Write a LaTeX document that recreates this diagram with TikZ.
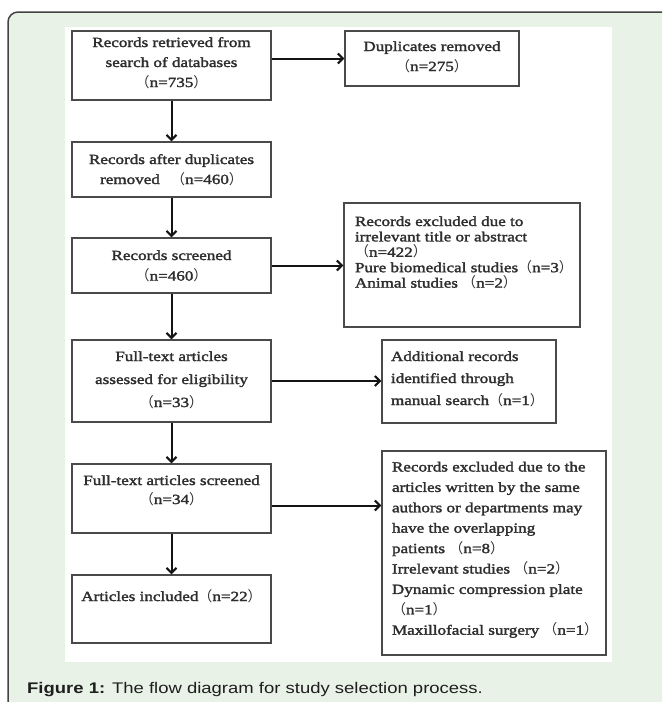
\documentclass[tikz,border=0pt]{standalone}
\usepackage{fontspec}
\usetikzlibrary{arrows.meta,shadows}
\newfontfamily\boxfont{Liberation Serif}[FakeStretch=1.22,FakeBold=2]
\newfontfamily\capfont{Liberation Sans}[FakeStretch=1.2]
\newfontfamily\cjkfont{Noto Sans CJK SC}
\newcommand\LPar{{\cjkfont （}}
\newcommand\RPar{{\cjkfont ）}}
\definecolor{framefill}{HTML}{E8F2E6}
\definecolor{frameline}{HTML}{444444}
\definecolor{boxline}{HTML}{4A4A4A}
\definecolor{txt}{HTML}{2E2E2E}
% #1 width, #2 height, #3 first baseline from top, #4 line spacing, #5 alignment, #6 text
\newcommand\BoxTxt[6]{\parbox[c][#2][t]{#1}{\baselineskip=#4\relax#5\rule{0pt}{#3}#6\par}}
\tikzset{
  fbox/.style={draw=boxline, line width=1.4pt, fill=white, inner sep=0pt,
    drop shadow={shadow xshift=1.2pt, shadow yshift=-1.2pt, opacity=0.3, fill=black},
    font=\boxfont\fontsize{14}{16}\selectfont, text=txt},
  arr/.style={line width=2pt, draw=black!92, -{Straight Barb[length=5pt,width=10pt]}}
}
\begin{document}
\begin{tikzpicture}[x=1pt,y=-1pt]
\useasboundingbox (0,0) rectangle (662,702);
\clip (0,0) rectangle (662,702);
\draw[fill=framefill, draw=frameline, line width=1.5pt, rounded corners=10pt] (8,12) rectangle (720,760);
\fill[white] (65,27) rectangle (612,662);

\node[fbox] (b1) at (171.5,65.5) {\BoxTxt{199pt}{69pt}{16pt}{20pt}{\centering}{Records retrieved from\\search of databases\\\LPar n=735\RPar}};
\node[fbox] (b2) at (432,58.5) {\BoxTxt{174pt}{55pt}{20pt}{20pt}{\centering}{Duplicates removed\\\LPar n=275\RPar}};
\node[fbox] (b3) at (171.5,169.5) {\BoxTxt{199pt}{55pt}{22pt}{20pt}{\centering}{Records after duplicates\\removed\hspace{7pt} \LPar n=460\RPar}};
\node[fbox] (b4) at (171.5,265.5) {\BoxTxt{199pt}{55pt}{22pt}{20.5pt}{\centering}{Records screened\\\LPar n=460\RPar}};
\node[fbox] (b5) at (462,265) {\BoxTxt{236pt}{124pt}{23pt}{15.4pt}{\raggedright\leftskip=11pt}{Records excluded due to\\irrelevant title or abstract\\\LPar n=422\RPar\\Pure biomedical studies\LPar n=3\RPar\\Animal studies \LPar n=2\RPar}};
\node[fbox] (b6) at (171.5,381) {\BoxTxt{199pt}{82pt}{21pt}{23pt}{\centering}{Full-text articles\\assessed for eligibility\\\LPar n=33\RPar}};
\node[fbox] (b7) at (469,381.5) {\BoxTxt{174pt}{83pt}{21pt}{22pt}{\raggedright\leftskip=9pt}{Additional records\\identified through\\manual search\LPar n=1\RPar}};
\node[fbox] (b8) at (171.5,498.5) {\BoxTxt{199pt}{69pt}{21pt}{19pt}{\centering}{Full-text articles screened\\\LPar n=34\RPar}};
\node[fbox] (b9) at (494,553) {\BoxTxt{224pt}{204pt}{20.5pt}{20.4pt}{\raggedright\leftskip=10pt}{Records excluded due to the\\articles written by the same\\authors or departments may\\have the overlapping\\patients \LPar n=8\RPar\\Irrelevant studies \LPar n=2\RPar\\Dynamic compression plate\\\LPar n=1\RPar\\Maxillofacial surgery \LPar n=1\RPar}};
\node[fbox] (b10) at (171.5,609) {\BoxTxt{199pt}{68pt}{26pt}{20pt}{\centering}{Articles included\LPar n=22\RPar}};

\draw[arr] (b1.east |- b2.west) -- (b2.west);
\draw[arr] (b1) -- (b3);
\draw[arr] (b3) -- (b4);
\draw[arr] (b4.east) -- (b4.east -| b5.west);
\draw[arr] (b4) -- (b6);
\draw[arr] (b6.east) -- (b6.east -| b7.west);
\draw[arr] (b6) -- (b8);
\draw[arr] ([yshift=-7pt]b8.east) -- ([yshift=-7pt]b8.east -| b9.west);
\draw[arr] (b8) -- (b10);

\node[anchor=base west, inner sep=0pt, font=\capfont\fontsize{15.4}{18}\selectfont, text=black!88] (cap) at (27,693) {\textbf{Figure 1:} The flow diagram for study selection process.};
\end{tikzpicture}
\end{document}
